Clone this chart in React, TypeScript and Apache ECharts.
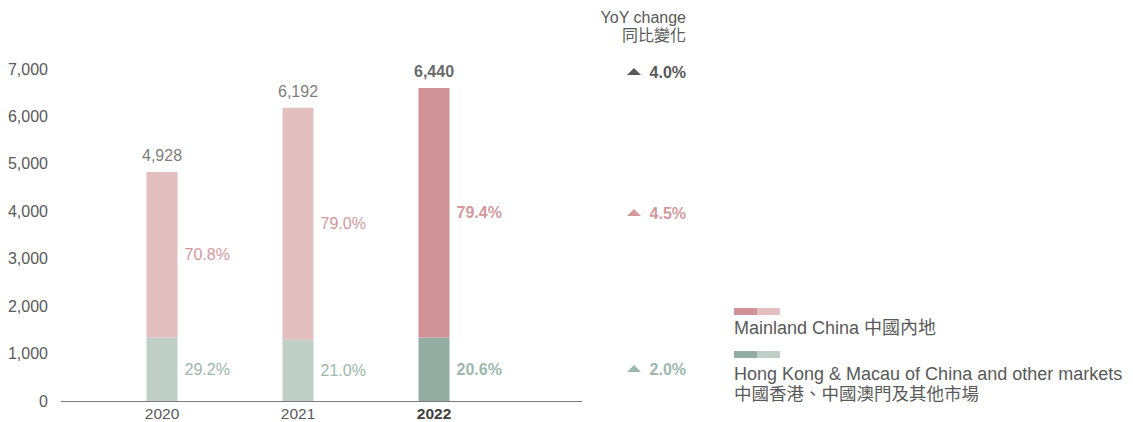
import React, { useEffect, useRef } from "react";
import * as echarts from "echarts";

const categories = ["2020", "2021", "2022"];
const hkValues = [1340, 1290, 1340];
const mainlandValues = [3490, 4895, 5260];
const totalLabels = [4928, 6192, 6440];
const mainlandShare = ["70.8%", "79.0%", "79.4%"];
const hkShare = ["29.2%", "21.0%", "20.6%"];
const yoyLabels = ["4.0%", "4.5%", "2.0%"];
const yoyTitle = ["YoY change", "同比變化"];
const legendMainland = "Mainland China 中國內地";
const legendHk = ["Hong Kong & Macau of China and other markets", "中國香港、中國澳門及其他市場"];
const highlightIndex = 2;

const FONT = "'Liberation Sans', 'Noto Sans CJK TC', sans-serif";
const GRAY = "#595959";
const PINK_LIGHT = "#e3bfc0";
const PINK_DARK = "#cf9296";
const GREEN_LIGHT = "#bfcfc8";
const GREEN_DARK = "#93ada2";
const PINK_TEXT = "#d4999c";
const GREEN_TEXT = "#9bb8ab";
const FS = 16;

function txt(text: string, x: number, y: number, fill: string, opts: any = {}) {
  return {
    type: "text",
    x,
    y,
    style: {
      text,
      fill,
      fontSize: opts.fontSize || FS,
      fontWeight: opts.fontWeight || "normal",
      fontFamily: FONT,
      align: opts.align || "left",
      textAlign: opts.align || "left",
      verticalAlign: "middle",
      textVerticalAlign: "middle",
    },
  };
}

export default function App() {
  const ref = useRef<HTMLDivElement>(null);
  useEffect(() => {
    if (!ref.current) return;
    const chart = echarts.init(ref.current, null, { renderer: "svg" });
    const yoyYs = [72, 213, 369];
    const yoyColors = [GRAY, PINK_TEXT, GREEN_TEXT];
    const graphic: any[] = [
      {
        type: "line",
        shape: { x1: 61, y1: 401.5, x2: 582, y2: 401.5 },
        style: { stroke: "#7a7a7a", lineWidth: 1 },
      },
      txt(yoyTitle[0], 686, 17, GRAY, { align: "right" }),
      txt(yoyTitle[1], 686, 35, GRAY, { align: "right" }),
    ];
    yoyLabels.forEach((l, i) => {
      const y = yoyYs[i];
      graphic.push({
        type: "polygon",
        shape: { points: [[627, y + 3], [641, y + 3], [634, y - 4]] },
        style: { fill: yoyColors[i] },
      });
      graphic.push(txt(l, 686, y, yoyColors[i], { align: "right", fontWeight: "bold" }));
    });
    graphic.push(
      { type: "rect", shape: { x: 734, y: 308, width: 23, height: 7 }, style: { fill: PINK_DARK } },
      { type: "rect", shape: { x: 757, y: 308, width: 23, height: 7 }, style: { fill: PINK_LIGHT } },
      txt(legendMainland, 734, 328, GRAY, { fontSize: 18 }),
      { type: "rect", shape: { x: 734, y: 351, width: 23, height: 7 }, style: { fill: GREEN_DARK } },
      { type: "rect", shape: { x: 757, y: 351, width: 23, height: 7 }, style: { fill: GREEN_LIGHT } },
      txt(legendHk[0], 734, 374, GRAY, { fontSize: 18 }),
      txt(legendHk[1], 734, 394, GRAY, { fontSize: 17.5 })
    );

    chart.setOption({
      animation: false,
      textStyle: { fontFamily: FONT },
      grid: { left: 94, right: 631, top: 69, bottom: 21 },
      xAxis: {
        type: "category",
        data: categories,
        axisLine: { show: false },
        axisTick: { show: false },
        axisLabel: {
          margin: 5,
          formatter: (v: string, i: number) => (i === highlightIndex ? `{b|${v}}` : `{n|${v}}`),
          rich: {
            n: { color: GRAY, fontSize: 15.5, fontFamily: FONT },
            b: { color: "#404040", fontSize: 15.5, fontWeight: "bold", fontFamily: FONT },
          },
        },
      },
      yAxis: {
        type: "value",
        min: 0,
        max: 7000,
        interval: 1000,
        axisLine: { show: false },
        axisTick: { show: false },
        splitLine: { show: false },
        axisLabel: {
          margin: 46,
          color: GRAY,
          fontSize: FS,
          fontFamily: FONT,
          formatter: (v: number) => v.toLocaleString("en-US"),
        },
      },
      series: [
        {
          name: legendHk[0],
          type: "bar",
          stack: "total",
          barWidth: 31,
          data: hkValues.map((v, i) => ({
            value: v,
            itemStyle: { color: i === highlightIndex ? GREEN_DARK : GREEN_LIGHT },
            label: { fontWeight: i === highlightIndex ? "bold" : "normal" },
          })),
          label: {
            show: true,
            position: "right",
            distance: 7,
            color: GREEN_TEXT,
            fontSize: FS,
            fontFamily: FONT,
            formatter: (p: any) => hkShare[p.dataIndex],
          },
        },
        {
          name: legendMainland,
          type: "bar",
          stack: "total",
          barWidth: 31,
          data: mainlandValues.map((v, i) => ({
            value: v,
            itemStyle: { color: i === highlightIndex ? PINK_DARK : PINK_LIGHT },
            label: { fontWeight: i === highlightIndex ? "bold" : "normal" },
          })),
          label: {
            show: true,
            position: "right",
            distance: 7,
            color: PINK_TEXT,
            fontSize: FS,
            fontFamily: FONT,
            formatter: (p: any) => mainlandShare[p.dataIndex],
          },
        },
        {
          type: "scatter",
          symbolSize: 0,
          data: categories.map((c, i) => ({
            value: [i, hkValues[i] + mainlandValues[i]],
            label: {
              fontWeight: i === highlightIndex ? "bold" : "normal",
              color: i === highlightIndex ? "#404040" : GRAY,
            },
          })),
          label: {
            show: true,
            position: "top",
            distance: 8,
            fontSize: FS,
            fontFamily: FONT,
            formatter: (p: any) => totalLabels[p.dataIndex].toLocaleString("en-US"),
          },
        },
      ],
      graphic,
    });
    return () => chart.dispose();
  }, []);
  return (
    <div
      ref={ref}
      style={{ position: "absolute", left: 0, top: 0, width: 1133, height: 422 }}
    />
  );
}
